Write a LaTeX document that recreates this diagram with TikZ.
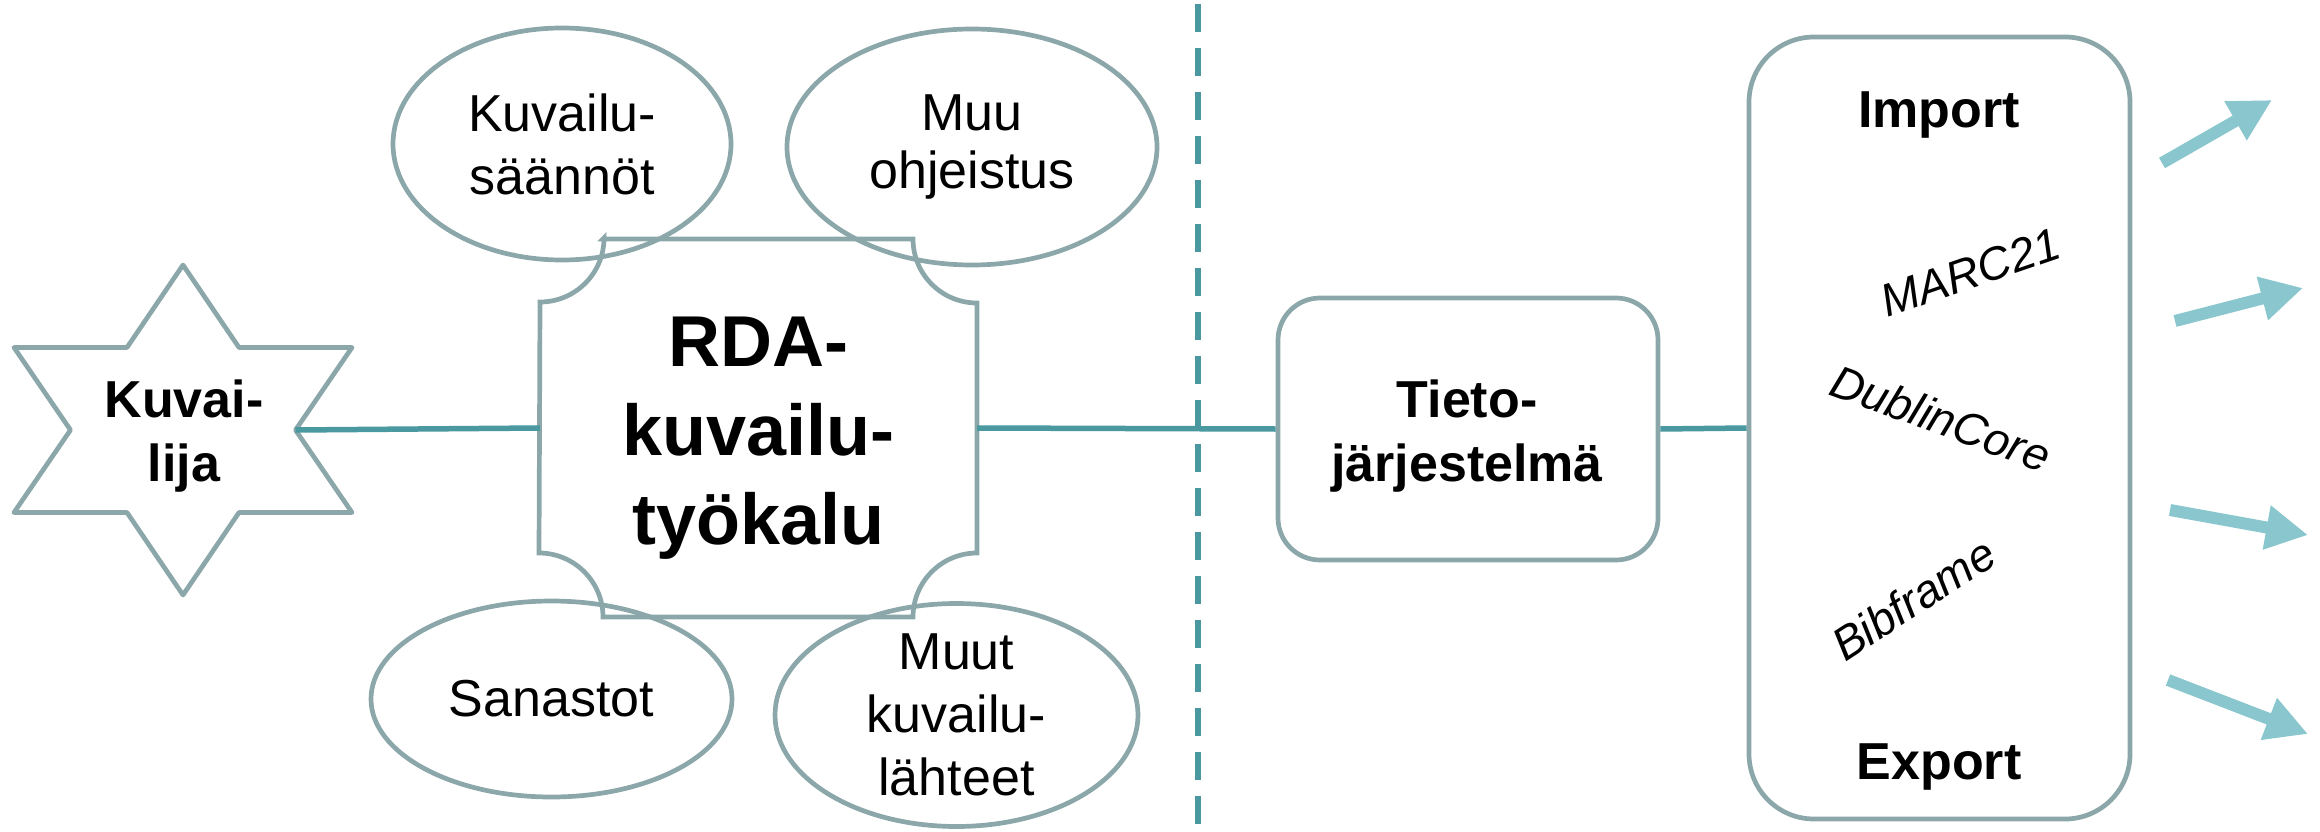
\documentclass[tikz,border=0pt]{standalone}
\usepackage{fontspec}
\setmainfont{Liberation Sans}
\usetikzlibrary{shapes.geometric,arrows.meta}
\definecolor{outl}{HTML}{8BA7AA}
\definecolor{conn}{HTML}{4A98A0}
\definecolor{arr}{HTML}{8AC6CE}
\tikzset{
 shp/.style={draw=outl, line width=4.7pt},
 lnk/.style={draw=conn, line width=5.5pt},
 btxt/.style={font=\fontsize{52}{64}\selectfont\bfseries, align=center, inner sep=0pt},
 fmt/.style={font=\fontsize{46}{55}\selectfont\itshape, inner sep=0pt, anchor=base west},
 oval/.style={shp, ellipse, inner sep=-6pt, align=center, font=\fontsize{52}{63}\selectfont},
 outarrow/.style={draw=arr, line width=12pt, -{Triangle[length=42pt,width=42pt]}},
}
\begin{document}
\begin{tikzpicture}[x=1pt,y=-1pt]
\useasboundingbox (0,0) rectangle (2320,832);

% dashed divider
\coordinate (dtop) at (1198,4);
\coordinate (dbot) at (1198,832);
\draw[conn, line width=5.5pt, dash pattern=on 28pt off 16pt] (dtop) -- (dbot);

% star
\draw[shp, line join=round] (183,265) -- (239,347.5) -- (352,347.5) -- (295.5,430) -- (352,512.5) -- (239,512.5) -- (183,595) -- (127,512.5) -- (14,512.5) -- (70.5,430) -- (14,347.5) -- (127,347.5) -- cycle;
\node[btxt] (kuv) at (184,436) {Kuvai-\\lija};
\coordinate (kuvR) at (295.5,430);

% RDA plaque
\node[minimum width=437, minimum height=378, inner sep=0pt] (rda) at (758.5,428) {};
\draw[shp] (603,239) -- (913,239) arc[start angle=180,end angle=90,radius=64]
  -- (977,553) arc[start angle=270,end angle=180,radius=64]
  -- (603,617) arc[start angle=0,end angle=-90,radius=64]
  -- (540,302) arc[start angle=90,end angle=0,radius=64] -- cycle;
\node[font=\fontsize{72}{89}\selectfont\bfseries, align=center, inner sep=0pt] (rdatxt) at (758.5,438) {RDA-\\kuvailu-\\työkalu};

% ellipses
\node[oval, minimum width=338, minimum height=232] (e1) at (562,144) {Kuvailu-\\säännöt};
\node[oval, minimum width=370, minimum height=236, font=\fontsize{52}{58}\selectfont] (e2) at (972,147) {Muu\\ohjeistus};
\node[oval, minimum width=361, minimum height=196] (e3) at (551.5,699) {Sanastot};
\node[oval, minimum width=363, minimum height=223] (e4) at (956.5,715) {Muut\\kuvailu-\\lähteet};

% Tietojarjestelma
\node[shp, rectangle, rounded corners=42pt, minimum width=380, minimum height=262, inner sep=0pt] (tieto) at (1468,429) {};
\node[btxt] (tietotxt) at (1467,436) {Tieto-\\järjestelmä};

% Import/Export box
\node[shp, rectangle, rounded corners=65pt, minimum width=381, minimum height=782, inner sep=0pt] (io) at (1939.5,428) {};
\node[btxt, anchor=base] (imp) at (1939,128) {Import};
\node[btxt, anchor=base] (exp) at (1939,779) {Export};
\node[fmt, rotate=19] (marc) at (1887,318) {MARC21};
\node[fmt, rotate=-20] (dc) at (1827,394) {DublinCore};
\node[fmt, rotate=33] (bib) at (1845,663) {Bibframe};

% connectors
\draw[lnk] (kuvR) -- (rda.west);
\draw[lnk] (rda.east) -- (tieto.west);
\draw[lnk] (tieto.east) -- (io.west);

% outgoing arrows
\coordinate (a1s) at (2162,163); \coordinate (a1e) at (2272,100);
\coordinate (a2s) at (2175,321); \coordinate (a2e) at (2303,288);
\coordinate (a3s) at (2170,510); \coordinate (a3e) at (2308,535);
\coordinate (a4s) at (2168,680); \coordinate (a4e) at (2308,734);
\draw[outarrow] (a1s) -- (a1e);
\draw[outarrow] (a2s) -- (a2e);
\draw[outarrow] (a3s) -- (a3e);
\draw[outarrow] (a4s) -- (a4e);
\end{tikzpicture}
\end{document}
